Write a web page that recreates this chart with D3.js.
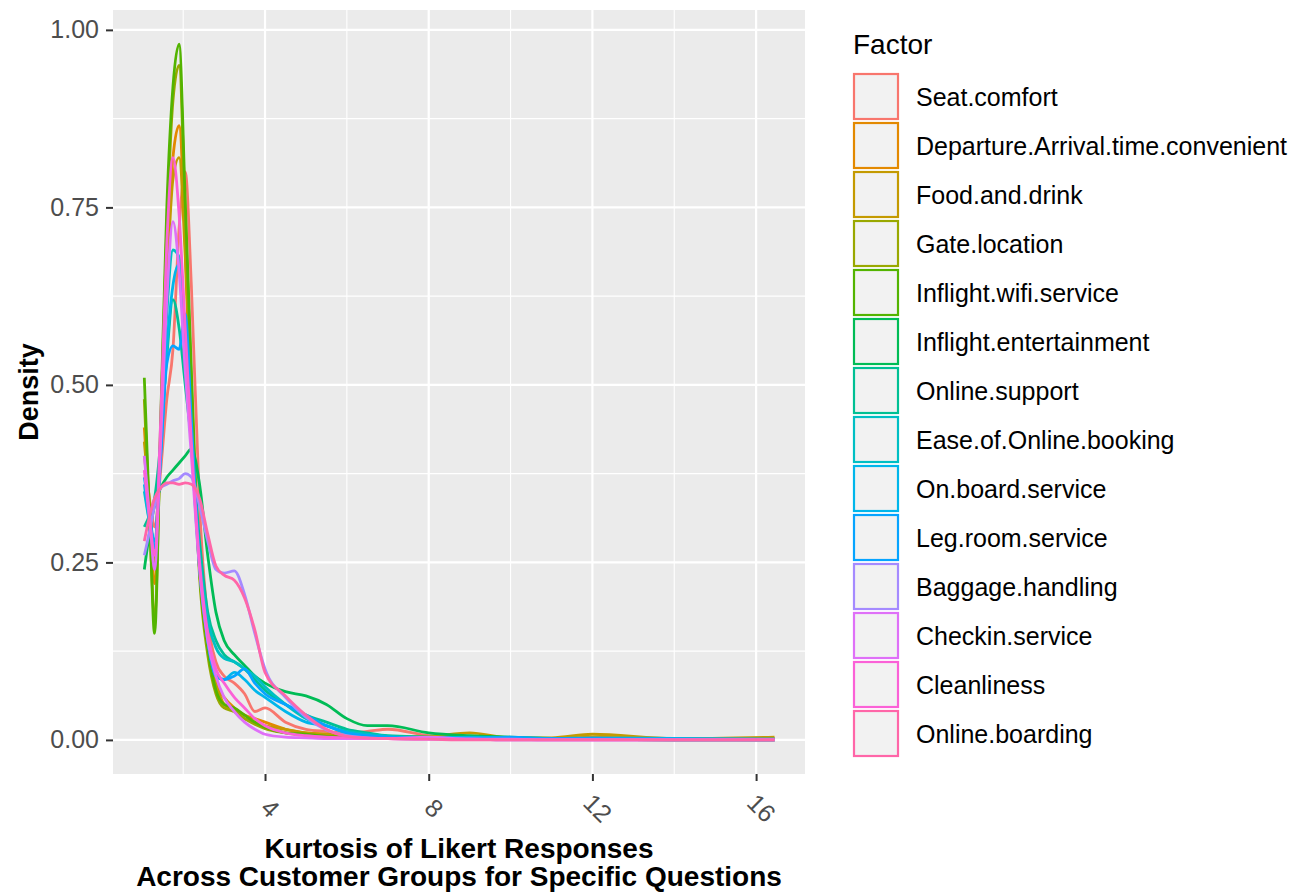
<!DOCTYPE html>
<html>
<head>
<meta charset="utf-8">
<script src="https://cdn.jsdelivr.net/npm/d3@7"></script>
<style>
  body { margin: 0; background: #fff; }
  text { font-family: "Liberation Sans", Arial, sans-serif; }
</style>
</head>
<body>
<div class="chart"></div>
<script>
// kurtosis grid shared by all curves
var kurtosis = [1.05, 1.2, 1.3, 1.45, 1.6, 1.75, 1.9, 2.05, 2.2, 2.4, 2.6, 2.8, 3.0, 3.25, 3.5, 3.75, 4.0, 4.5, 5.0, 5.5, 6.0, 6.5, 7.0, 8.0, 9.0, 10, 11, 12, 14, 16.45];

var factors = ["Seat.comfort", "Departure.Arrival.time.convenient", "Food.and.drink", "Gate.location",
  "Inflight.wifi.service", "Inflight.entertainment", "Online.support", "Ease.of.Online.booking",
  "On.board.service", "Leg.room.service", "Baggage.handling", "Checkin.service", "Cleanliness", "Online.boarding"];

var colors = ["#F8766D", "#E38900", "#C49A00", "#99A800", "#53B400", "#00BC56", "#00C094", "#00BFC4",
  "#00B6EB", "#06A4FF", "#A58AFF", "#DF70F8", "#FB61D7", "#FF66A8"];

var seatComfort   = [0.40, 0.33, 0.30, 0.38, 0.48, 0.55, 0.72, 0.80, 0.64, 0.33, 0.17, 0.11, 0.09, 0.08, 0.065, 0.04, 0.045, 0.025, 0.015, 0.012, 0.010, 0.012, 0.015, 0.006, 0.003, 0.002, 0.002, 0.001, 0.001, 0.001];
var departure     = [0.44, 0.30, 0.22, 0.42, 0.66, 0.82, 0.865, 0.70, 0.47, 0.24, 0.13, 0.08, 0.06, 0.045, 0.035, 0.03, 0.025, 0.015, 0.010, 0.008, 0.006, 0.005, 0.004, 0.003, 0.005, 0.002, 0.002, 0.004, 0.001, 0.002];
var foodDrink     = [0.42, 0.32, 0.25, 0.43, 0.64, 0.79, 0.82, 0.68, 0.46, 0.24, 0.13, 0.08, 0.05, 0.04, 0.03, 0.025, 0.02, 0.015, 0.010, 0.008, 0.006, 0.004, 0.004, 0.005, 0.010, 0.003, 0.003, 0.008, 0.002, 0.004];
var gateLocation  = [0.48, 0.28, 0.17, 0.44, 0.72, 0.90, 0.95, 0.74, 0.50, 0.23, 0.12, 0.065, 0.045, 0.04, 0.03, 0.022, 0.016, 0.010, 0.007, 0.005, 0.004, 0.003, 0.002, 0.002, 0.001, 0.001, 0.001, 0.001, 0.000, 0.000];
var wifi          = [0.51, 0.28, 0.15, 0.45, 0.75, 0.92, 0.98, 0.76, 0.52, 0.24, 0.13, 0.07, 0.05, 0.045, 0.035, 0.025, 0.018, 0.010, 0.008, 0.005, 0.004, 0.003, 0.002, 0.002, 0.001, 0.001, 0.001, 0.001, 0.000, 0.000];
var entertainment = [0.24, 0.30, 0.33, 0.355, 0.37, 0.38, 0.39, 0.40, 0.41, 0.36, 0.26, 0.18, 0.14, 0.12, 0.105, 0.09, 0.08, 0.068, 0.062, 0.05, 0.03, 0.02, 0.02, 0.01, 0.006, 0.004, 0.002, 0.001, 0.001, 0.000];
var onlineSupport = [0.30, 0.32, 0.34, 0.42, 0.54, 0.62, 0.58, 0.50, 0.42, 0.28, 0.18, 0.14, 0.12, 0.11, 0.10, 0.085, 0.07, 0.05, 0.035, 0.025, 0.015, 0.010, 0.006, 0.004, 0.002, 0.001, 0.001, 0.001, 0.000, 0.000];
var easeBooking   = [0.35, 0.30, 0.28, 0.42, 0.60, 0.69, 0.68, 0.55, 0.42, 0.26, 0.17, 0.13, 0.115, 0.11, 0.10, 0.09, 0.075, 0.05, 0.03, 0.02, 0.012, 0.008, 0.005, 0.003, 0.002, 0.001, 0.001, 0.001, 0.000, 0.000];
var onBoard       = [0.36, 0.30, 0.28, 0.40, 0.55, 0.64, 0.67, 0.56, 0.42, 0.24, 0.14, 0.09, 0.085, 0.095, 0.085, 0.07, 0.06, 0.04, 0.025, 0.02, 0.010, 0.006, 0.004, 0.003, 0.004, 0.003, 0.002, 0.003, 0.002, 0.001];
var legRoom       = [0.37, 0.31, 0.27, 0.40, 0.53, 0.555, 0.55, 0.60, 0.45, 0.25, 0.14, 0.09, 0.085, 0.09, 0.10, 0.08, 0.065, 0.05, 0.035, 0.02, 0.010, 0.006, 0.004, 0.003, 0.002, 0.004, 0.002, 0.002, 0.001, 0.001];
var baggage       = [0.26, 0.30, 0.33, 0.355, 0.36, 0.365, 0.368, 0.375, 0.37, 0.33, 0.28, 0.24, 0.235, 0.238, 0.205, 0.15, 0.10, 0.06, 0.032, 0.014, 0.006, 0.003, 0.002, 0.001, 0.001, 0.000, 0.000, 0.000, 0.000, 0.000];
var checkin       = [0.40, 0.30, 0.24, 0.42, 0.62, 0.73, 0.66, 0.52, 0.40, 0.24, 0.14, 0.09, 0.06, 0.04, 0.025, 0.015, 0.008, 0.004, 0.003, 0.002, 0.002, 0.002, 0.002, 0.004, 0.001, 0.001, 0.000, 0.000, 0.000, 0.000];
var cleanliness   = [0.38, 0.30, 0.26, 0.45, 0.70, 0.82, 0.74, 0.58, 0.42, 0.25, 0.15, 0.10, 0.08, 0.06, 0.045, 0.03, 0.02, 0.010, 0.006, 0.004, 0.003, 0.002, 0.002, 0.001, 0.001, 0.000, 0.000, 0.000, 0.000, 0.000];
var onlineBoarding= [0.28, 0.32, 0.34, 0.355, 0.362, 0.362, 0.36, 0.362, 0.36, 0.34, 0.29, 0.245, 0.232, 0.225, 0.20, 0.155, 0.095, 0.062, 0.035, 0.015, 0.005, 0.003, 0.002, 0.001, 0.000, 0.000, 0.000, 0.000, 0.000, 0.000];

var seriesValues = [seatComfort, departure, foodDrink, gateLocation, wifi, entertainment, onlineSupport,
  easeBooking, onBoard, legRoom, baggage, checkin, cleanliness, onlineBoarding];

var xTicks = [4, 8, 12, 16];
var yTicks = [0, 0.25, 0.5, 0.75, 1];

var W = 1312, H = 894;
var panel = { left: 113, right: 805, top: 10, bottom: 774 };

var svg = d3.select(".chart").append("svg")
    .attr("width", W)
    .attr("height", H);

// x: 4 -> 265px, 16 -> 756px in the reference
var x = d3.scaleLinear().domain([0.285, 17.195]).range([panel.left, panel.right]);
var y = d3.scaleLinear().domain([-0.048, 1.028]).range([panel.bottom, panel.top]);

// panel background
svg.append("rect")
    .attr("x", panel.left).attr("y", panel.top)
    .attr("width", panel.right - panel.left).attr("height", panel.bottom - panel.top)
    .attr("fill", "#EBEBEB");

// minor grid
var xMinor = [2, 6, 10, 14];
var yMinor = [0.125, 0.375, 0.625, 0.875];
svg.selectAll(".xminor").data(xMinor).enter().append("line")
    .attr("x1", d => x(d)).attr("x2", d => x(d))
    .attr("y1", panel.top).attr("y2", panel.bottom)
    .attr("stroke", "#fff").attr("stroke-width", 1.1);
svg.selectAll(".yminor").data(yMinor).enter().append("line")
    .attr("y1", d => y(d)).attr("y2", d => y(d))
    .attr("x1", panel.left).attr("x2", panel.right)
    .attr("stroke", "#fff").attr("stroke-width", 1.1);
// major grid
svg.selectAll(".xmajor").data(xTicks).enter().append("line")
    .attr("x1", d => x(d)).attr("x2", d => x(d))
    .attr("y1", panel.top).attr("y2", panel.bottom)
    .attr("stroke", "#fff").attr("stroke-width", 2.2);
svg.selectAll(".ymajor").data(yTicks).enter().append("line")
    .attr("y1", d => y(d)).attr("y2", d => y(d))
    .attr("x1", panel.left).attr("x2", panel.right)
    .attr("stroke", "#fff").attr("stroke-width", 2.2);

// density lines
var line = d3.line()
    .x(d => x(d[0]))
    .y(d => y(d[1]))
    .curve(d3.curveMonotoneX);

svg.append("g").selectAll("path")
    .data(seriesValues)
  .enter().append("path")
    .attr("d", vals => line(vals.map((v, i) => [kurtosis[i], v])))
    .attr("fill", "none")
    .attr("stroke", (d, i) => colors[i])
    .attr("stroke-width", 2.8)
    .attr("stroke-linejoin", "round");

// axes
var yAxis = svg.append("g")
    .attr("transform", "translate(" + panel.left + ",0)")
    .call(d3.axisLeft(y).tickValues(yTicks).tickFormat(d3.format(".2f")).tickSize(7).tickPadding(7));
yAxis.select(".domain").remove();
yAxis.selectAll("line").attr("stroke", "#333").attr("stroke-width", 2);
yAxis.selectAll("text").attr("fill", "#4D4D4D").style("font-size", "25px");

var xAxis = svg.append("g")
    .attr("transform", "translate(0," + panel.bottom + ")")
    .call(d3.axisBottom(x).tickValues(xTicks).tickSize(7));
xAxis.select(".domain").remove();
xAxis.selectAll("line").attr("stroke", "#333").attr("stroke-width", 2);
xAxis.selectAll("text")
    .attr("fill", "#4D4D4D")
    .style("font-size", "25px")
    .attr("text-anchor", "middle")
    .attr("dy", null)
    .attr("dominant-baseline", "central")
    .attr("y", null)
    .attr("transform", "translate(5,34) rotate(45)");

// axis titles
svg.append("text")
    .attr("transform", "translate(29," + ((panel.top + panel.bottom) / 2) + ") rotate(-90)")
    .attr("text-anchor", "middle")
    .attr("dominant-baseline", "central")
    .style("font-size", "27px").style("font-weight", "bold")
    .text("Density");

var cx = (panel.left + panel.right) / 2;
svg.append("text")
    .attr("x", cx).attr("y", 858)
    .attr("text-anchor", "middle")
    .style("font-size", "28px").style("font-weight", "bold")
    .text("Kurtosis of Likert Responses");
svg.append("text")
    .attr("x", cx).attr("y", 886)
    .attr("text-anchor", "middle")
    .style("font-size", "28px").style("font-weight", "bold")
    .text("Across Customer Groups for Specific Questions");

// legend
var legend = svg.append("g").attr("transform", "translate(853,0)");
legend.append("text")
    .attr("x", 0).attr("y", 54)
    .style("font-size", "28px")
    .text("Factor");

var item = legend.selectAll(".item").data(factors).enter().append("g")
    .attr("transform", (d, i) => "translate(0," + (73 + i * 49) + ")");
item.append("rect")
    .attr("x", 1).attr("y", 1)
    .attr("width", 44).attr("height", 45)
    .attr("fill", "#F2F2F2")
    .attr("stroke", (d, i) => colors[i])
    .attr("stroke-width", 2.2);
item.append("text")
    .attr("x", 63).attr("y", 24)
    .attr("dominant-baseline", "central")
    .style("font-size", "25px")
    .text(d => d);
</script>
</body>
</html>
